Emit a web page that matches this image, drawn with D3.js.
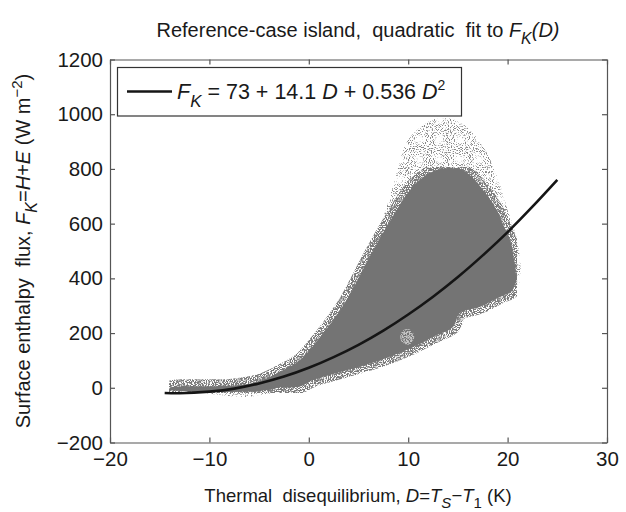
<!DOCTYPE html>
<html>
<head>
<meta charset="utf-8">
<script src="https://cdn.jsdelivr.net/npm/d3@7"></script>
<style>
  body { margin: 0; background: #fff; }
  text { font-family: "Liberation Sans", Arial, sans-serif; fill: #1a1a1a; }
</style>
</head>
<body>
<div id="chart"></div>
<script>
var width = 626, height = 512,
    margin = { top: 59.5, right: 19, bottom: 69.5, left: 110 };

// tick labels
var xTicks = [-20, -10, 0, 10, 20, 30];
var yTicks = [-200, 0, 200, 400, 600, 800, 1000, 1200];

// dense core of the scatter cloud (D in K, F in W m-2)
var coreUpperD = [-14, -7.6, -4.9, -2.2, -0.9, 0.4, 2.4, 3.8, 6.5, 8.5, 10, 11.5, 13.2, 15.5, 17.5, 18.9, 19.7, 20.3, 20.7, 20.9];
var coreUpperF = [0, 8, 25, 72, 101, 152, 245, 320, 505, 630, 715, 770, 800, 795, 725, 650, 585, 535, 456, 394];
var coreLowerD = [20.9, 20.4, 19.2, 17.2, 15.2, 14.5, 12.5, 10.5, 7.2, 3.8, 0.4, -0.9, -2.9, -4.2, -7.6, -10.9, -14];
var coreLowerF = [394, 352, 332, 295, 273, 222, 186, 149, 101, 64, 28, 5, 2, -8, -15, -14, -6];

// sparse outer fringe of points
var fringeUpperD = [-13, -8, -5, -2, -0.5, 1.5, 3.5, 5.5, 7.2, 8.5, 9.9, 11.5, 13, 15, 16.5, 17.9, 19.2, 20, 20.8, 21.3, 21.2];
var fringeUpperF = [1, 10, 30, 88, 132, 215, 335, 475, 595, 740, 900, 960, 985, 975, 930, 860, 745, 650, 560, 450, 390];
var fringeLowerD = [21.2, 19, 15, 12, 8, 4, 0, -2, -4.5, -6.5, -8.5, -11, -13];
var fringeLowerF = [385, 322, 262, 172, 92, 55, 18, -8, -24, -34, -28, -16, -8];

// thinner patch inside the cloud
var holeD = [9.9], holeF = [186];

// quadratic fit, values
var fitD = [-14.5, -13, -10, -7.5, -5, -2.5, 0, 2.5, 5, 7.5, 10, 12.5, 15, 17.5, 20, 22.5, 25];
var fitF = [-19, -20, -14, -3, 16, 41, 73, 112, 157, 209, 268, 333, 405, 484, 569, 662, 760];

var x = d3.scaleLinear().domain([-20, 30]).range([margin.left, width - margin.right]);
var y = d3.scaleLinear().domain([-200, 1200]).range([height - margin.bottom, margin.top]);

var svg = d3.select("#chart").append("svg")
    .attr("width", width)
    .attr("height", height);

var defs = svg.append("defs");
// grainy texture so the thin edge of the cloud looks like scattered dots
function speckle(id, cut, seed) {
  var f = defs.append("filter").attr("id", id)
    .attr("x", 0).attr("y", 0).attr("width", 1).attr("height", 1);
  f.append("feTurbulence").attr("type", "fractalNoise").attr("baseFrequency", 0.95)
    .attr("numOctaves", 1).attr("seed", seed).attr("result", "noise");
  f.append("feColorMatrix").attr("in", "noise").attr("type", "matrix")
    .attr("values", "0 0 0 0 0  0 0 0 0 0  0 0 0 0 0  0 0 0 -9 " + cut).attr("result", "mask");
  f.append("feComposite").attr("in", "SourceGraphic").attr("in2", "mask").attr("operator", "in");
}
speckle("sparse", 4.15, 3);
speckle("dense", 5.2, 7);

function pts(ds, fs) { return ds.map(function(d, i) { return [x(d), y(fs[i])]; }); }
var area = d3.line().curve(d3.curveCatmullRomClosed);
var fringePts = pts(fringeUpperD, fringeUpperF).concat(pts(fringeLowerD, fringeLowerF));
var corePts = pts(coreUpperD, coreUpperF).concat(pts(coreLowerD, coreLowerF));

svg.append("path").attr("d", area(fringePts))
  .attr("fill", "#888").attr("filter", "url(#sparse)");
svg.append("path").attr("d", area(corePts))
  .attr("fill", "#7a7a7a").attr("stroke", "#7a7a7a").attr("stroke-width", 14)
  .attr("filter", "url(#dense)");
svg.append("path").attr("d", area(corePts))
  .attr("fill", "#747474");

svg.selectAll(".hole").data(holeD).enter().append("ellipse")
  .attr("cx", function(d) { return x(d); })
  .attr("cy", function(d, i) { return y(holeF[i]); })
  .attr("rx", 7).attr("ry", 8)
  .attr("fill", "#c4c4c4").attr("filter", "url(#dense)");

// fit curve
svg.append("path")
  .attr("d", d3.line().curve(d3.curveCatmullRom)(pts(fitD, fitF)))
  .attr("fill", "none")
  .attr("stroke", "#151515")
  .attr("stroke-width", 2.6);

// axes box with inward ticks (matlab style)
function styleAxis(g) {
  g.selectAll("path, line").attr("stroke", "#555").attr("stroke-width", 1.2);
  g.selectAll("text").attr("font-size", 20.5).attr("fill", "#1a1a1a")
    .attr("font-family", "'Liberation Sans', Arial, sans-serif");
}
var fmt = d3.format("d");
svg.append("g").attr("transform", "translate(0," + y(-200) + ")")
  .call(d3.axisBottom(x).tickValues(xTicks).tickFormat(fmt).tickSize(-5).tickSizeOuter(0).tickPadding(9))
  .call(styleAxis);
svg.append("g").attr("transform", "translate(0," + y(1200) + ")")
  .call(d3.axisTop(x).tickValues(xTicks).tickSize(-5).tickSizeOuter(0).tickFormat(""))
  .call(styleAxis);
svg.append("g").attr("transform", "translate(" + x(-20) + ",0)")
  .call(d3.axisLeft(y).tickValues(yTicks).tickFormat(fmt).tickSize(-5).tickSizeOuter(0).tickPadding(7))
  .call(styleAxis);
svg.append("g").attr("transform", "translate(" + x(30) + ",0)")
  .call(d3.axisRight(y).tickValues(yTicks).tickSize(-5).tickSizeOuter(0).tickFormat(""))
  .call(styleAxis);

// legend
var lg = svg.append("g");
lg.append("rect")
  .attr("x", 117.5).attr("y", 67.5).attr("width", 344).attr("height", 48.5)
  .attr("fill", "#fff").attr("stroke", "#333").attr("stroke-width", 1.2);
lg.append("line")
  .attr("x1", 127).attr("x2", 172).attr("y1", 91.5).attr("y2", 91.5)
  .attr("stroke", "#151515").attr("stroke-width", 2.6);
var lt = lg.append("text").attr("x", 177).attr("y", 99).attr("font-size", 21.5);
lt.append("tspan").attr("font-style", "italic").text("F");
lt.append("tspan").attr("font-style", "italic").attr("font-size", 17).attr("dy", 8).text("K");
lt.append("tspan").attr("dy", -8).text(" = 73 + 14.1 ");
lt.append("tspan").attr("font-style", "italic").text("D");
lt.append("tspan").text(" + 0.536 ");
lt.append("tspan").attr("font-style", "italic").text("D");
lt.append("tspan").attr("font-size", 14).attr("dy", -9).text("2");

// title
var tt = svg.append("text").attr("x", 358).attr("y", 37).attr("text-anchor", "middle")
  .attr("font-size", 20).style("white-space", "pre");
tt.append("tspan").text("Reference-case island,  quadratic  fit to ");
tt.append("tspan").attr("font-style", "italic").text("F");
tt.append("tspan").attr("font-style", "italic").attr("font-size", 16).attr("dy", 7).text("K");
tt.append("tspan").attr("font-style", "italic").attr("dy", -7).text("(D)");

// x label
var xl = svg.append("text").attr("x", 358).attr("y", 502).attr("text-anchor", "middle")
  .attr("font-size", 18.5).style("white-space", "pre");
xl.append("tspan").text("Thermal  disequilibrium, ");
xl.append("tspan").attr("font-style", "italic").text("D");
xl.append("tspan").text("=");
xl.append("tspan").attr("font-style", "italic").text("T");
xl.append("tspan").attr("font-style", "italic").attr("font-size", 15).attr("dy", 6).text("S");
xl.append("tspan").attr("dy", -6).text("\u2212");
xl.append("tspan").attr("font-style", "italic").text("T");
xl.append("tspan").attr("font-size", 15).attr("dy", 6).text("1");
xl.append("tspan").attr("dy", -6).text(" (K)");

// y label
var yl = svg.append("text")
  .attr("transform", "translate(30," + ((y(-200) + y(1200)) / 2) + ") rotate(-90)")
  .attr("text-anchor", "middle").attr("font-size", 20).style("white-space", "pre");
yl.append("tspan").text("Surface enthalpy  flux, ");
yl.append("tspan").attr("font-style", "italic").text("F");
yl.append("tspan").attr("font-style", "italic").attr("font-size", 16).attr("dy", 7).text("K");
yl.append("tspan").attr("dy", -7).text("=");
yl.append("tspan").attr("font-style", "italic").text("H");
yl.append("tspan").text("+");
yl.append("tspan").attr("font-style", "italic").text("E");
yl.append("tspan").text(" (W m");
yl.append("tspan").attr("font-size", 15).attr("dy", -8).text("\u22122");
yl.append("tspan").attr("dy", 8).text(")");
</script>
</body>
</html>
